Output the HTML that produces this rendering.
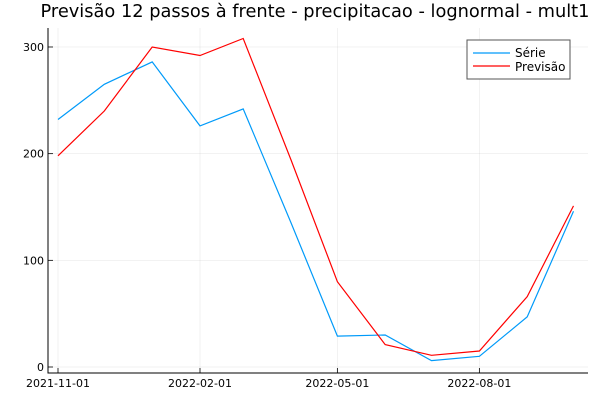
<!DOCTYPE html>
<html><head><meta charset="utf-8"><style>
body{margin:0;background:#fff}
svg{display:block;font-family:"DejaVu Sans","Liberation Sans",sans-serif}
</style></head><body>
<svg id="c" width="600" height="400">
<text x="315" y="17" text-anchor="middle" font-size="17.8" fill="#000">Previsão 12 passos à frente - precipitacao - lognormal - mult1</text>
<g id="grid"></g>
<g id="axes"></g>
<g id="series"></g>
<g>
<rect x="467" y="40" width="103" height="39" fill="#fff" stroke="#555" stroke-width="1"/>
<line x1="473" y1="53" x2="510" y2="53" stroke="#009af9" stroke-width="1.2"/>
<text x="515" y="57" font-size="12">Série</text>
<line x1="473" y1="66" x2="510" y2="66" stroke="#ff0000" stroke-width="1.2"/>
<text x="515" y="71" font-size="12">Previsão</text>
</g>
</svg>
<script>
const dates = ["2021-11-01","2021-12-01","2022-01-01","2022-02-01","2022-03-01","2022-04-01","2022-05-01","2022-06-01","2022-07-01","2022-08-01","2022-09-01","2022-10-01"];
const serie = [232,265,286,226,242,135,29,30,6,10,47,146];
const previsao = [198,240,300,292,308,194,80,21,11,15,66,151];
const yTicks = [0,100,200,300];
const xTicks = ["2021-11-01","2022-02-01","2022-05-01","2022-08-01"];
const NS="http://www.w3.org/2000/svg";
const t0=Date.parse("2021-11-01");
function X(d){return 58+(Date.parse(d)-t0)/86400000*1.5435;}
function Y(v){return 367-v*1.0667;}
const L=48,R=588,T=28,B=373;
const grid=document.getElementById('grid'),axes=document.getElementById('axes'),ser=document.getElementById('series');
function mk(tag,a,p){const e=document.createElementNS(NS,tag);for(const k in a)e.setAttribute(k,a[k]);p.appendChild(e);return e;}
yTicks.forEach(v=>{
 const g=mk('line',{x1:L,x2:R,y1:Y(v),y2:Y(v),stroke:'#000','stroke-opacity':0.1,'stroke-width':0.5},grid);
 
 
 const tk=mk('line',{x1:L,x2:L+5,y1:Y(v),y2:Y(v),stroke:'#000','stroke-width':0.8},axes);
 
 
 const t=mk('text',{x:L-4,y:Y(v)+4,'text-anchor':'end','font-size':11},axes);t.textContent=v;
 
 
});
xTicks.forEach(d=>{
 const g=mk('line',{x1:X(d),x2:X(d),y1:T,y2:B,stroke:'#000','stroke-opacity':0.1,'stroke-width':0.5},grid);
 
 
 const tk=mk('line',{x1:X(d),x2:X(d),y1:B,y2:B-5,stroke:'#000','stroke-width':0.8},axes);
 
 
 const t=mk('text',{x:X(d),y:B+14,'text-anchor':'middle','font-size':11},axes);t.textContent=d;
 
 
});
const ax=mk('path',{d:`M${L},${T}V${B}H${R}`,fill:'none',stroke:'#000','stroke-width':1},axes);


function line(vals,color,name){
 const d=vals.map((v,i)=>(i?'L':'M')+X(dates[i]).toFixed(1)+','+Y(v).toFixed(1)).join('');
 const p=mk('path',{d:d,fill:'none',stroke:color,'stroke-width':1.2},ser);
 
 
}
line(serie,'#009af9','serie-line');
line(previsao,'#ff0000','previsao-line');
</script>
</body></html>
